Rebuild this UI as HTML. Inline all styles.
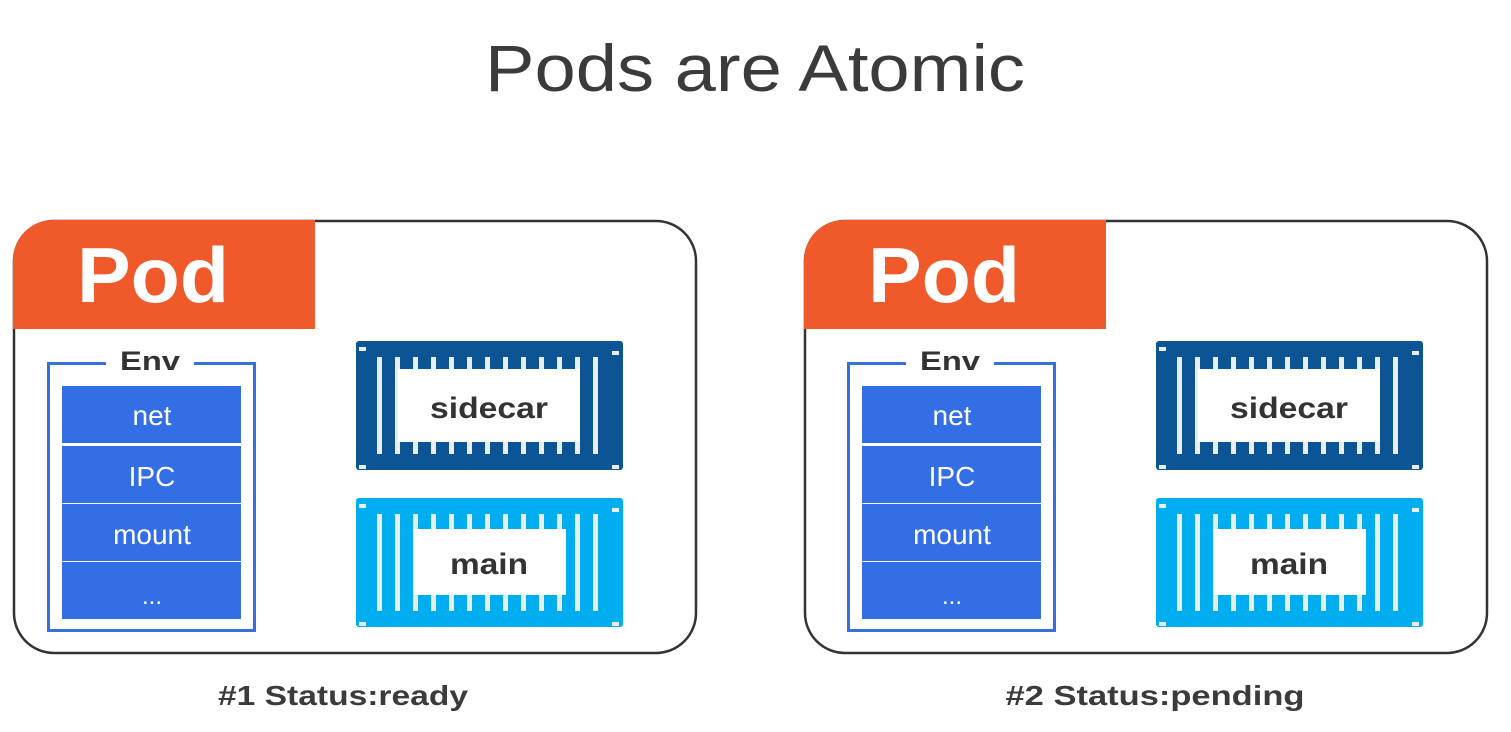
<!DOCTYPE html>
<html><head><meta charset="utf-8"><style>
html,body{margin:0;padding:0;background:#fff;width:1511px;height:732px;overflow:hidden}
svg{display:block}
text{font-family:"Liberation Sans",sans-serif}
</style></head><body>
<svg width="1511" height="732" viewBox="0 0 1511 732" xmlns="http://www.w3.org/2000/svg">
<text x="755" y="91" font-size="66" fill="#3b3b3b" text-anchor="middle" textLength="540" lengthAdjust="spacingAndGlyphs">Pods are Atomic</text>

<g>
<rect x="14" y="221" width="682" height="432" rx="40" ry="40" fill="#fff" stroke="#333" stroke-width="2.5"/>
<path d="M13,329 L13,260 A40,40 0 0 1 53,220 L315,220 L315,329 Z" fill="#f05a2b"/>
<text x="153" y="302" font-size="78" font-weight="bold" fill="#fff" text-anchor="middle" textLength="152" lengthAdjust="spacingAndGlyphs">Pod</text>
</g>
<g>
<rect x="48.5" y="363.5" width="206" height="267" fill="none" stroke="#3570e0" stroke-width="3"/>
<rect x="106" y="350" width="88" height="22" fill="#fff"/>
<text x="150" y="370" font-size="27" fill="#333" text-anchor="middle" font-weight="bold" textLength="60" lengthAdjust="spacingAndGlyphs">Env</text>
<rect x="62" y="386" width="179" height="57" fill="#346ee4"/>
<rect x="62" y="446" width="179" height="57" fill="#346ee4"/>
<rect x="62" y="504" width="179" height="57" fill="#346ee4"/>
<rect x="62" y="562" width="179" height="57" fill="#346ee4"/>
<text x="152" y="425" font-size="28" fill="#fff" text-anchor="middle">net</text>
<text x="152" y="486" font-size="28" fill="#fff" text-anchor="middle">IPC</text>
<text x="152" y="544" font-size="28" fill="#fff" text-anchor="middle">mount</text>
<text x="152" y="604" font-size="24" fill="#fff" text-anchor="middle">...</text>
<rect x="356" y="341" width="267" height="129" rx="3" fill="#0c5494"/>
<g fill="#e9eef6">
<rect x="377" y="357" width="5" height="97"/><rect x="395" y="357" width="5" height="97"/><rect x="413" y="357" width="5" height="97"/><rect x="431" y="357" width="5" height="97"/><rect x="449" y="357" width="5" height="97"/><rect x="467" y="357" width="5" height="97"/><rect x="485" y="357" width="5" height="97"/><rect x="503" y="357" width="5" height="97"/><rect x="521" y="357" width="5" height="97"/><rect x="539" y="357" width="5" height="97"/><rect x="557" y="357" width="5" height="97"/><rect x="575" y="357" width="5" height="97"/><rect x="593" y="357" width="5" height="97"/>
<rect x="359" y="347" width="7" height="4"/><rect x="612" y="351" width="7" height="4"/><rect x="359" y="465" width="7" height="4"/><rect x="612" y="465" width="7" height="4"/>
</g>
<rect x="398" y="369" width="182" height="73" fill="#fff"/>
<text x="489" y="418" font-size="30" fill="#333" text-anchor="middle" font-weight="bold" textLength="118" lengthAdjust="spacingAndGlyphs">sidecar</text>
<rect x="356" y="498" width="267" height="129" rx="3" fill="#00aeef"/>
<g fill="#e9eef6">
<rect x="377" y="514" width="5" height="97"/><rect x="395" y="514" width="5" height="97"/><rect x="413" y="514" width="5" height="97"/><rect x="431" y="514" width="5" height="97"/><rect x="449" y="514" width="5" height="97"/><rect x="467" y="514" width="5" height="97"/><rect x="485" y="514" width="5" height="97"/><rect x="503" y="514" width="5" height="97"/><rect x="521" y="514" width="5" height="97"/><rect x="539" y="514" width="5" height="97"/><rect x="557" y="514" width="5" height="97"/><rect x="575" y="514" width="5" height="97"/><rect x="593" y="514" width="5" height="97"/>
<rect x="359" y="504" width="7" height="4"/><rect x="612" y="508" width="7" height="4"/><rect x="359" y="622" width="7" height="4"/><rect x="612" y="622" width="7" height="4"/>
</g>
<rect x="413" y="529" width="153" height="66" fill="#fff"/>
<text x="489" y="574" font-size="30" fill="#333" text-anchor="middle" font-weight="bold" textLength="78" lengthAdjust="spacingAndGlyphs">main</text>
</g>
<text x="343" y="705" font-size="28" fill="#3b3b3b" text-anchor="middle" font-weight="bold" textLength="250" lengthAdjust="spacingAndGlyphs">#1 Status:ready</text>

<g transform="translate(791,0)">
<rect x="14" y="221" width="682" height="432" rx="40" ry="40" fill="#fff" stroke="#333" stroke-width="2.5"/>
<path d="M13,329 L13,260 A40,40 0 0 1 53,220 L315,220 L315,329 Z" fill="#f05a2b"/>
<text x="153" y="302" font-size="78" font-weight="bold" fill="#fff" text-anchor="middle" textLength="152" lengthAdjust="spacingAndGlyphs">Pod</text>
</g>
<g transform="translate(800,0)">
<rect x="48.5" y="363.5" width="206" height="267" fill="none" stroke="#3570e0" stroke-width="3"/>
<rect x="106" y="350" width="88" height="22" fill="#fff"/>
<text x="150" y="370" font-size="27" fill="#333" text-anchor="middle" font-weight="bold" textLength="60" lengthAdjust="spacingAndGlyphs">Env</text>
<rect x="62" y="386" width="179" height="57" fill="#346ee4"/>
<rect x="62" y="446" width="179" height="57" fill="#346ee4"/>
<rect x="62" y="504" width="179" height="57" fill="#346ee4"/>
<rect x="62" y="562" width="179" height="57" fill="#346ee4"/>
<text x="152" y="425" font-size="28" fill="#fff" text-anchor="middle">net</text>
<text x="152" y="486" font-size="28" fill="#fff" text-anchor="middle">IPC</text>
<text x="152" y="544" font-size="28" fill="#fff" text-anchor="middle">mount</text>
<text x="152" y="604" font-size="24" fill="#fff" text-anchor="middle">...</text>
<rect x="356" y="341" width="267" height="129" rx="3" fill="#0c5494"/>
<g fill="#e9eef6">
<rect x="377" y="357" width="5" height="97"/><rect x="395" y="357" width="5" height="97"/><rect x="413" y="357" width="5" height="97"/><rect x="431" y="357" width="5" height="97"/><rect x="449" y="357" width="5" height="97"/><rect x="467" y="357" width="5" height="97"/><rect x="485" y="357" width="5" height="97"/><rect x="503" y="357" width="5" height="97"/><rect x="521" y="357" width="5" height="97"/><rect x="539" y="357" width="5" height="97"/><rect x="557" y="357" width="5" height="97"/><rect x="575" y="357" width="5" height="97"/><rect x="593" y="357" width="5" height="97"/>
<rect x="359" y="347" width="7" height="4"/><rect x="612" y="351" width="7" height="4"/><rect x="359" y="465" width="7" height="4"/><rect x="612" y="465" width="7" height="4"/>
</g>
<rect x="398" y="369" width="182" height="73" fill="#fff"/>
<text x="489" y="418" font-size="30" fill="#333" text-anchor="middle" font-weight="bold" textLength="118" lengthAdjust="spacingAndGlyphs">sidecar</text>
<rect x="356" y="498" width="267" height="129" rx="3" fill="#00aeef"/>
<g fill="#e9eef6">
<rect x="377" y="514" width="5" height="97"/><rect x="395" y="514" width="5" height="97"/><rect x="413" y="514" width="5" height="97"/><rect x="431" y="514" width="5" height="97"/><rect x="449" y="514" width="5" height="97"/><rect x="467" y="514" width="5" height="97"/><rect x="485" y="514" width="5" height="97"/><rect x="503" y="514" width="5" height="97"/><rect x="521" y="514" width="5" height="97"/><rect x="539" y="514" width="5" height="97"/><rect x="557" y="514" width="5" height="97"/><rect x="575" y="514" width="5" height="97"/><rect x="593" y="514" width="5" height="97"/>
<rect x="359" y="504" width="7" height="4"/><rect x="612" y="508" width="7" height="4"/><rect x="359" y="622" width="7" height="4"/><rect x="612" y="622" width="7" height="4"/>
</g>
<rect x="413" y="529" width="153" height="66" fill="#fff"/>
<text x="489" y="574" font-size="30" fill="#333" text-anchor="middle" font-weight="bold" textLength="78" lengthAdjust="spacingAndGlyphs">main</text>
</g>
<text x="1155" y="705" font-size="28" fill="#3b3b3b" text-anchor="middle" font-weight="bold" textLength="299" lengthAdjust="spacingAndGlyphs">#2 Status:pending</text>
</svg>
</body></html>
